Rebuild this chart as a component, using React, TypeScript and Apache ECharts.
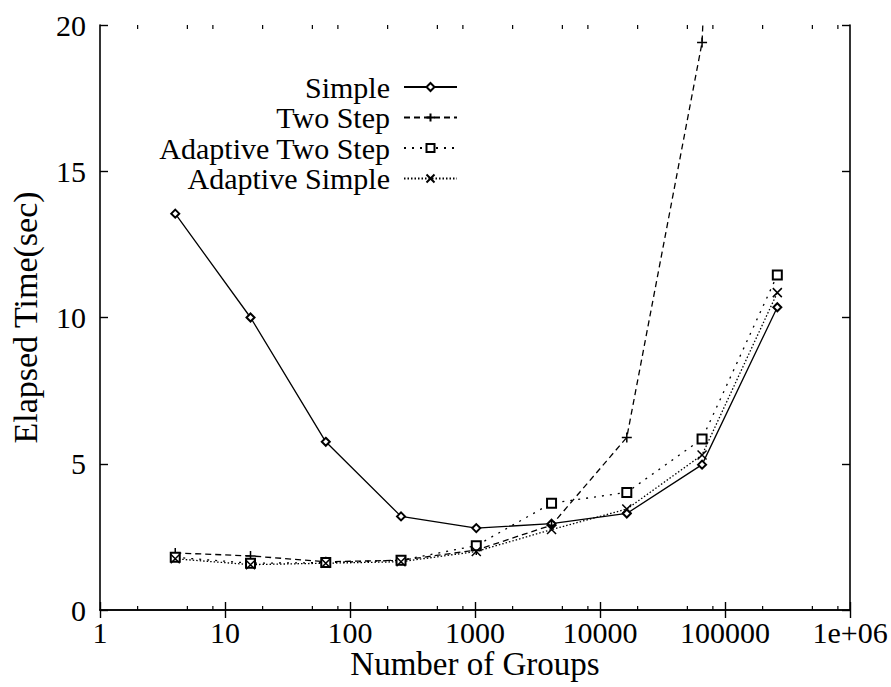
import React, { useEffect, useRef } from "react";
import * as echarts from "echarts";

const groups = [4, 16, 64, 256, 1024, 4096, 16384, 65536, 262144];
const simple = [13.55, 10.0, 5.75, 3.2, 2.8, 2.95, 3.3, 4.97, 10.35];
const twoStep = [1.95, 1.85, 1.65, 1.7, 2.05, 2.9, 5.9, 19.4, 80];
const adaptiveTwoStep = [1.8, 1.6, 1.62, 1.7, 2.2, 3.65, 4.02, 5.85, 11.45];
const adaptiveSimple = [1.75, 1.55, 1.6, 1.65, 2.0, 2.75, 3.45, 5.3, 10.85];
const seriesNames = ["Simple", "Two Step", "Adaptive Two Step", "Adaptive Simple"];
const minorTickValues = [2, 5, 8, 20, 50, 80, 200, 500, 800, 2000, 5000, 8000, 20000, 50000, 80000, 200000, 500000, 800000];
const xTickLabels: Record<string, string> = {
  "1": "1", "10": "10", "100": "100", "1000": "1000", "10000": "10000", "100000": "100000", "1000000": "1e+06",
};

const FONT = "'Liberation Serif', serif";
const PLUS = "path://M5,0 L5,10 M0,5 L10,5";
const CROSS = "path://M0,0 L10,10 M10,0 L0,10";

const pair = (vals: number[]) => groups.map((g, i) => [g, vals[i]]);

export default function App() {
  const ref = useRef<HTMLDivElement>(null);
  useEffect(() => {
    document.body.style.margin = "0";
    const chart = echarts.init(ref.current!, null, { renderer: "svg" });
    const axisLine = { show: true, lineStyle: { color: "#000", width: 1.6 } };
    const tick = { show: true, inside: true, length: 8, lineStyle: { color: "#000", width: 1.4 } };
    const mk = (name: string, vals: number[], type: any, symbol: string, size: number) => ({
      name,
      type: "line",
      data: pair(vals),
      symbol,
      symbolSize: size,
      showSymbol: true,
      lineStyle: { color: "#000", width: 1.3, type },
      itemStyle: symbol.startsWith("path")
        ? { color: "rgba(0,0,0,0)", borderColor: "#000", borderWidth: 1.5 }
        : { color: "#000", borderColor: "#000", borderWidth: 1.5 },
      clip: true,
      z: 3,
    });
    chart.setOption({
      animation: false,
      backgroundColor: "#fff",
      grid: { left: 100, right: 41, top: 25, bottom: 77 },
      legend: {
        data: seriesNames,
        orient: "vertical",
        align: "right",
        right: 428,
        top: 67,
        itemWidth: 53,
        itemHeight: 10,
        itemGap: 0.5,
        textStyle: { fontFamily: FONT, fontSize: 30, color: "#000", lineHeight: 29, padding: [0, 9, 0, 0] },
      },
      xAxis: [
        {
          type: "log", logBase: 10, min: 1, max: 1000000, splitNumber: 6, position: "bottom",
          axisLine, axisTick: tick, splitLine: { show: false }, minorTick: { show: false },
          axisLabel: {
            color: "#000", fontFamily: FONT, fontSize: 30, margin: 7,
            formatter: (v: number) => xTickLabels[String(Math.round(v))] ?? String(v),
          },
          name: "Number of Groups", nameLocation: "middle", nameGap: 37, nameMoveOverlap: false,
          nameTextStyle: { color: "#000", fontFamily: FONT, fontSize: 33, lineHeight: 34 },
        },
        {
          type: "log", logBase: 10, min: 1, max: 1000000, splitNumber: 6, position: "top",
          axisLine, axisTick: tick, splitLine: { show: false }, axisLabel: { show: false },
        },
      ],
      yAxis: [
        {
          type: "value", min: 0, max: 20, interval: 5, position: "left",
          axisLine, axisTick: tick, splitLine: { show: false },
          axisLabel: { color: "#000", fontFamily: FONT, fontSize: 30, margin: 14 },
          name: "Elapsed Time(sec)", nameLocation: "middle", nameGap: 58,
          nameTextStyle: { color: "#000", fontFamily: FONT, fontSize: 34 },
        },
        {
          type: "value", min: 0, max: 20, interval: 5, position: "right",
          axisLine, axisTick: tick, splitLine: { show: false }, axisLabel: { show: false },
        },
      ],
      series: [
        mk("Simple", simple, "solid", "emptyDiamond", 8),
        mk("Two Step", twoStep, [6, 4], PLUS, 10),
        mk("Adaptive Two Step", adaptiveTwoStep, [2, 6], "emptyRect", 9),
        mk("Adaptive Simple", adaptiveSimple, [1.5, 2], CROSS, 9),
        {
          type: "custom",
          silent: true,
          data: minorTickValues.map((v) => [v, 0]),
          clip: false,
          renderItem: (_p: any, api: any) => {
            const v = api.value(0);
            const b = api.coord([v, 0]);
            const t = api.coord([v, 20]);
            const st = { stroke: "#000", lineWidth: 1.2 };
            return {
              type: "group",
              children: [
                { type: "line", shape: { x1: b[0], y1: b[1], x2: b[0], y2: b[1] - 4 }, style: st },
                { type: "line", shape: { x1: t[0], y1: t[1], x2: t[0], y2: t[1] + 4 }, style: st },
              ],
            };
          },
        },
      ],
    });
    return () => chart.dispose();
  }, []);
  return <div ref={ref} style={{ width: 891, height: 687 }} />;
}
